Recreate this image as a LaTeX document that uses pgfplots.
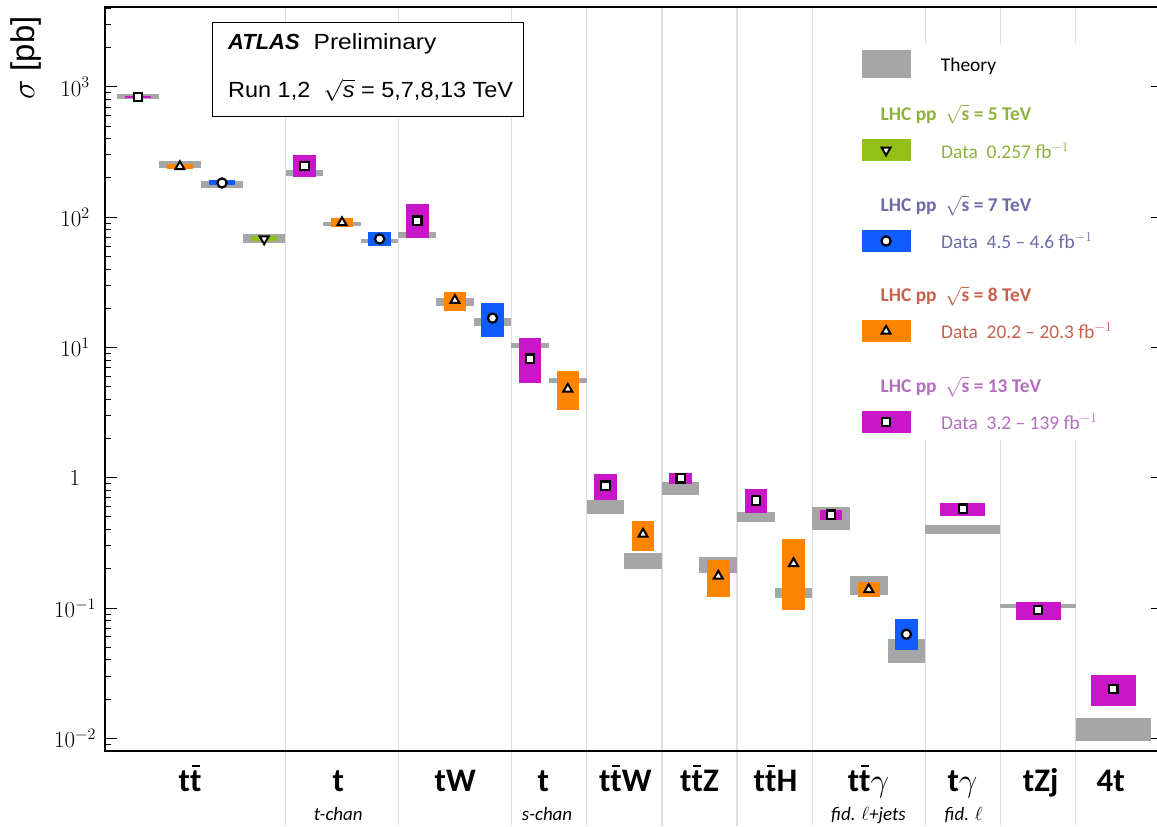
\RequirePackage{fix-cm}
\documentclass[border=0pt]{standalone}
\usepackage{pgfplots}
\pgfplotsset{compat=1.18}
\usepackage{fontspec}
\setmainfont{Liberation Sans}
\newfontfamily\catfont[Ligatures=TeX]{Carlito}
\definecolor{thgray}{RGB}{166,166,166}
\definecolor{cgreen}{RGB}{146,192,24}
\definecolor{cblue}{RGB}{16,92,255}
\definecolor{corange}{RGB}{255,132,0}
\definecolor{cmag}{RGB}{200,22,200}
\definecolor{tgreen}{RGB}{142,178,62}
\definecolor{tblue}{RGB}{108,106,168}
\definecolor{torange}{RGB}{200,96,74}
\definecolor{tmag}{RGB}{180,110,190}
\definecolor{sep}{RGB}{222,222,222}
\newcommand{\tb}{\ooalign{t\cr\hidewidth\raisebox{0.74em}{\rule{0.24em}{0.065em}}\hidewidth\cr}}
% box: colour, x0, x1, ylo, yhi
\newcommand{\bx}[5]{\addplot[fill=#1,draw=none,forget plot] coordinates {(#2,#4) (#3,#4) (#3,#5) (#2,#5)};}
\pgfplotsset{mk/.style={only marks, forget plot}}
\begin{document}
\begin{tikzpicture}
\begin{axis}[name=ax, scale only axis, width=1053.5bp, height=744bp,
  xmin=0.2, xmax=28.2, ymode=log, ymin=0.008, ymax=4100,
  clip=false,
  axis line style={line width=1.5bp},
  xtick={5,8,11,13,15,17,19,22,24,26}, xticklabels={},
  xtick pos=left, xtick align=outside,
  xtick style={draw=sep, line width=1.3bp, /pgfplots/major tick length=75bp},
  xmajorgrids, major x grid style={draw=sep, line width=1.3bp},
  ytick={0.01,0.1,1,10,100,1000},
  minor ytick={0.009,0.02,0.03,0.04,0.05,0.06,0.07,0.08,0.09,0.2,0.3,0.4,0.5,0.6,0.7,0.8,0.9,2,3,4,5,6,7,8,9,20,30,40,50,60,70,80,90,200,300,400,500,600,700,800,900,2000,3000,4000},
  yticklabels={$10^{-2}$,$10^{-1}$,$1$,$10^{1}$,$10^{2}$,$10^{3}$},
  ytick pos=left, ytick align=inside,
  ytick style={black, line width=1bp},
  major tick length=12bp, minor tick length=6bp,
  yticklabel style={font=\fontsize{23}{23}\selectfont, anchor=center, xshift=-30bp},
]
% white backdrop of the legend
\addplot[fill=white,draw=none,forget plot] coordinates {(20.0,1.95) (27.2,1.95) (27.2,2130) (20.0,2130)};
% theory
\bx{thgray}{0.52}{1.64}{800}{875}
\bx{thgray}{1.64}{2.75}{239}{269}
\bx{thgray}{2.75}{3.87}{168}{189}
\bx{thgray}{3.87}{4.99}{63.5}{74}
\bx{thgray}{5}{6}{208}{230}
\bx{thgray}{6}{7}{85.4}{92.2}
\bx{thgray}{7}{8}{62.9}{68.2}
\bx{thgray}{8}{9}{68.7}{76.4}
\bx{thgray}{9}{10}{20.9}{23.9}
\bx{thgray}{10}{11}{14.7}{16.7}
\bx{thgray}{11}{12}{9.95}{10.9}
\bx{thgray}{12}{13}{5.36}{5.85}
\bx{thgray}{13}{14}{0.527}{0.674}
\bx{thgray}{14}{15}{0.199}{0.264}
\bx{thgray}{15}{16}{0.736}{0.927}
\bx{thgray}{16}{17}{0.186}{0.246}
\bx{thgray}{17}{18}{0.457}{0.545}
\bx{thgray}{18}{19}{0.12}{0.142}
\bx{thgray}{19}{20}{0.399}{0.596}
\bx{thgray}{20}{21}{0.126}{0.176}
\bx{thgray}{21}{22}{0.038}{0.058}
\bx{thgray}{22}{24}{0.37}{0.434}
\bx{thgray}{24}{26}{0.1005}{0.108}
\bx{thgray}{26}{28}{0.0096}{0.0143}
% data 13 TeV
\bx{cmag}{0.735}{1.425}{820}{852}
\bx{cmag}{5.2}{5.8}{204}{300}
\bx{cmag}{8.2}{8.8}{69.5}{126}
\bx{cmag}{11.2}{11.8}{5.36}{11.8}
\bx{cmag}{13.2}{13.8}{0.674}{1.07}
\bx{cmag}{15.2}{15.8}{0.895}{1.09}
\bx{cmag}{17.2}{17.8}{0.539}{0.819}
\bx{cmag}{19.2}{19.8}{0.473}{0.568}
\bx{cmag}{22.4}{23.6}{0.508}{0.64}
\bx{cmag}{24.4}{25.6}{0.081}{0.111}
\bx{cmag}{26.4}{27.6}{0.0178}{0.0306}
% data 8 TeV
\bx{corange}{1.845}{2.535}{234}{258}
\bx{corange}{6.2}{6.8}{84.4}{97.9}
\bx{corange}{9.2}{9.8}{19.0}{26.5}
\bx{corange}{12.2}{12.8}{3.31}{6.62}
\bx{corange}{14.2}{14.8}{0.274}{0.465}
\bx{corange}{16.2}{16.8}{0.121}{0.233}
\bx{corange}{18.2}{18.8}{0.097}{0.339}
\bx{corange}{20.2}{20.8}{0.121}{0.158}
% data 7 TeV
\bx{cblue}{2.965}{3.655}{176}{192}
\bx{cblue}{7.2}{7.8}{60}{76.4}
\bx{cblue}{10.2}{10.8}{12.1}{21.9}
\bx{cblue}{21.2}{21.8}{0.048}{0.082}
% data 5 TeV
\bx{cgreen}{4.085}{4.775}{65.5}{72}
% markers
\addplot[mk, mark=square*, mark size=4.2bp, mark options={fill=white,draw=black,line width=2.2bp}] coordinates {
 (1.08,835) (5.5,247) (8.5,94) (11.5,8.2) (13.5,0.87) (15.5,0.99) (17.5,0.67) (19.5,0.52) (23,0.578) (25,0.0966) (27,0.024)};
\addplot[mk, mark=triangle*, mark size=5.2bp, mark options={fill=white,draw=black,line width=2bp}] coordinates {
 (2.19,245) (6.5,91) (9.5,23) (12.5,4.8) (14.5,0.37) (16.5,0.176) (18.5,0.22) (20.5,0.139)};
\addplot[mk, mark=*, mark size=4.6bp, mark options={fill=white,draw=black,line width=2.2bp}] coordinates {
 (3.31,183) (7.5,68) (10.5,16.8) (21.5,0.063)};
\addplot[mk, mark=triangle*, mark size=5.2bp, mark options={fill=white,draw=black,line width=2bp,rotate=180}] coordinates {
 (4.43,68)};
% legend boxes
\bx{thgray}{20.31}{21.61}{1175}{1919}
\bx{cgreen}{20.31}{21.61}{271}{397}
\bx{cblue}{20.31}{21.61}{54.3}{79.6}
\bx{corange}{20.31}{21.61}{11.07}{16.2}
\bx{cmag}{20.31}{21.61}{2.215}{3.25}
\addplot[mk, mark=triangle*, mark size=5.2bp, mark options={fill=white,draw=black,line width=2bp,rotate=180}] coordinates {(20.96,327)};
\addplot[mk, mark=*, mark size=4.6bp, mark options={fill=white,draw=black,line width=2.2bp}] coordinates {(20.96,65.6)};
\addplot[mk, mark=triangle*, mark size=5.2bp, mark options={fill=white,draw=black,line width=2bp}] coordinates {(20.96,13.36)};
\addplot[mk, mark=square*, mark size=4.2bp, mark options={fill=white,draw=black,line width=2.2bp}] coordinates {(20.96,2.676)};
% legend texts
\begin{scope}[every node/.style={anchor=west, inner sep=0pt, font=\catfont\fontsize{19.5}{19.5}\selectfont}]
\node at (axis cs:22.41,1426) {Theory};
\node[text=tgreen] at (axis cs:20.81,615) {\bfseries LHC pp\ \ $\sqrt{\mbox{\bfseries s}}$ = 5 TeV};
\node[text=tgreen] at (axis cs:22.42,323) {Data\ \ 0.257 fb$^{-1}$};
\node[text=tblue] at (axis cs:20.81,122.3) {\bfseries LHC pp\ \ $\sqrt{\mbox{\bfseries s}}$ = 7 TeV};
\node[text=tblue] at (axis cs:22.42,65.5) {Data\ \ 4.5 \textendash{} 4.6 fb$^{-1}$};
\node[text=torange] at (axis cs:20.81,24.9) {\bfseries LHC pp\ \ $\sqrt{\mbox{\bfseries s}}$ = 8 TeV};
\node[text=torange] at (axis cs:22.42,13.36) {Data\ \ 20.2 \textendash{} 20.3 fb$^{-1}$};
\node[text=tmag] at (axis cs:20.81,4.99) {\bfseries LHC pp\ \ $\sqrt{\mbox{\bfseries s}}$ = 13 TeV};
\node[text=tmag] at (axis cs:22.42,2.676) {Data\ \ 3.2 \textendash{} 139 fb$^{-1}$};
\end{scope}
% ATLAS box
\draw[fill=white, line width=1bp] (axis cs:3.07,3126) rectangle (axis cs:11.32,597);
\node[anchor=west, inner sep=0pt, font=\fontsize{22}{22}\selectfont] at (axis cs:3.47,2131) {\textbf{\textit{ATLAS}}\hspace{14bp}\scalebox{1.12}[1]{Preliminary}};
\node[anchor=west, inner sep=0pt, font=\fontsize{22}{22}\selectfont] at (axis cs:3.47,944) {\scalebox{1.07}[1]{Run 1,2\ \ $\sqrt{\mbox{\itshape s}}$ = 5,7,8,13 TeV}};
% category labels
\begin{scope}[every node/.style={anchor=base, inner sep=0pt, yshift=-40.5bp, font=\catfont\bfseries\fontsize{33}{33}\selectfont}]
\node at (axis cs:2.46,0.008) {t\tb};
\node at (axis cs:6.4,0.008) {t};
\node at (axis cs:9.51,0.008) {tW};
\node at (axis cs:11.85,0.008) {t};
\node at (axis cs:14.03,0.008) {t\tb W};
\node at (axis cs:16.0,0.008) {t\tb Z};
\node at (axis cs:18.02,0.008) {t\tb H};
\node at (axis cs:20.49,0.008) {t\tb$\gamma$};
\node at (axis cs:22.99,0.008) {t$\gamma$};
\node at (axis cs:25.07,0.008) {tZj};
\node at (axis cs:26.93,0.008) {4t};
\end{scope}
\begin{scope}[every node/.style={anchor=base, inner sep=0pt, yshift=-69bp, font=\catfont\itshape\fontsize{19}{19}\selectfont}]
\node at (axis cs:6.4,0.008) {t-chan};
\node at (axis cs:11.95,0.008) {s-chan};
\node at (axis cs:20.49,0.008) {fid. $\ell$+jets};
\node at (axis cs:23.02,0.008) {fid. $\ell$};
\end{scope}
\end{axis}
\begin{axis}[at={(ax.south west)}, anchor=south west, scale only axis, width=1053.5bp, height=744bp,
  xmin=0.2, xmax=28.2, ymode=log, ymin=0.008, ymax=4100,
  axis x line=none, axis y line*=right, axis line style={-, line width=1.5bp},
  ytick={0.01,0.1,1,10,100,1000}, yticklabels={}, yminorticks=false, minor ytick={},
  ytick align=inside, major tick length=7.5bp, ytick style={black, line width=1bp}]
\end{axis}
\node[rotate=90, anchor=east, font=\fontsize{33}{33}\selectfont] at ([xshift=-79bp,yshift=-6bp]ax.north west) {$\sigma$ [pb]};
\pgfresetboundingbox
\path[use as bounding box] ([xshift=-105bp,yshift=-75bp]ax.south west) rectangle ([xshift=-1.5bp,yshift=7bp]ax.north east);
\end{tikzpicture}
\end{document}
